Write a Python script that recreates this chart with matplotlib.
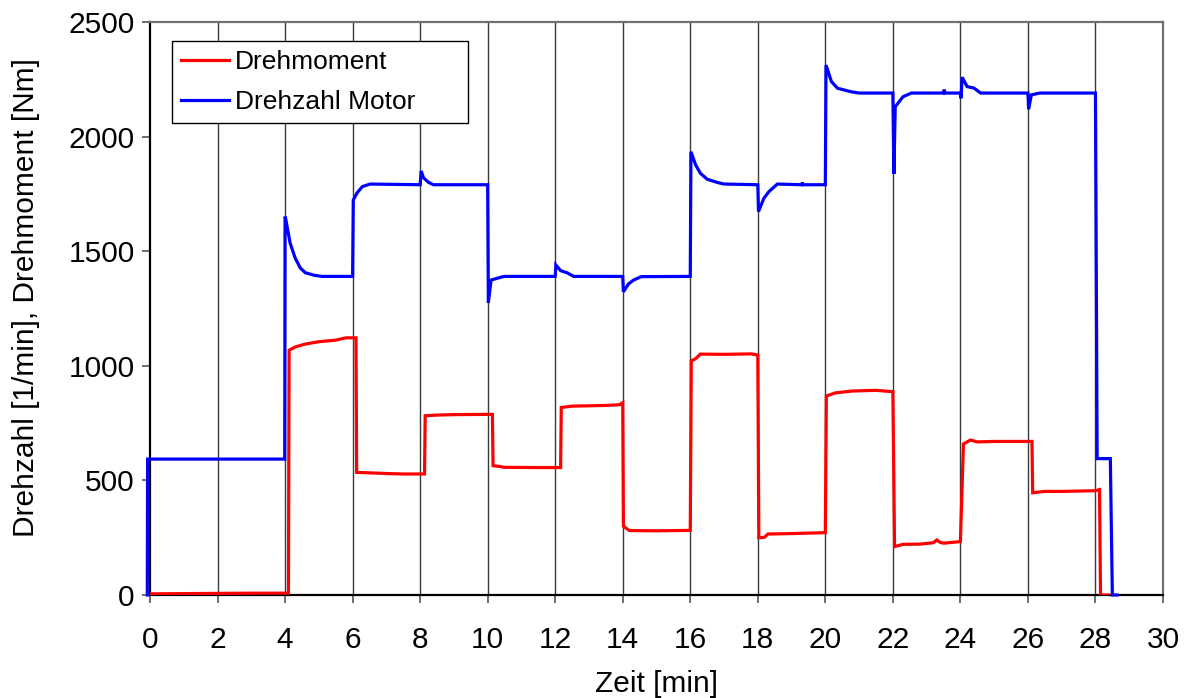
import matplotlib
matplotlib.use("Agg")
import matplotlib.pyplot as plt

plt.rcParams['font.family'] = ['Liberation Sans', 'DejaVu Sans']

# Drehmoment [Nm] - time [min] and value
torque_t = [0.0, 1.0, 2.0, 3.0, 4.1, 4.12, 4.3, 4.6, 5.0, 5.5, 5.8, 6.1,
            6.12, 6.3, 7.0, 7.5, 8.13, 8.15, 8.5, 9.0, 10.0, 10.14,
            10.16, 10.3, 10.5, 11.5, 12.16, 12.18, 12.5, 13.5, 13.9, 14.0,
            14.02, 14.2, 15.0, 16.0, 16.03, 16.15, 16.3, 17.0, 17.8, 18.0,
            18.03, 18.2, 18.3, 19.0, 20.0, 20.03, 20.3, 20.8, 21.5, 22.0,
            22.05, 22.3, 22.8, 23.2, 23.3, 23.4, 23.5, 24.0, 24.09,
            24.3, 24.5, 25.0, 26.12, 26.14, 26.5, 27.0, 28.0, 28.12,
            28.15, 28.4]
torque_v = [5, 6, 7, 8, 8, 1068, 1082, 1095, 1105, 1112, 1122, 1122,
            535, 534, 530, 528, 528, 782, 785, 787, 788, 788,
            564, 562, 557, 556, 556, 818, 824, 827, 830, 839,
            300, 281, 280, 282, 1022, 1030, 1051, 1050, 1052, 1047,
            250, 252, 266, 268, 272, 868, 882, 890, 893, 887,
            211, 221, 222, 228, 240, 230, 226, 233, 659,
            676, 668, 670, 670, 446, 452, 452, 455, 460,
            0, 0]

# Drehzahl Motor [1/min] - time [min] and value
speed_t = [-0.08, -0.07, 2.0, 3.99, 4.0, 4.02, 4.15, 4.3, 4.45, 4.6, 4.86,
           5.1, 6.0, 6.02, 6.13, 6.29, 6.52, 8.0, 8.03, 8.1, 8.25, 8.4,
           10.0, 10.02, 10.1, 10.38, 10.5, 12.0, 12.02, 12.16, 12.35,
           12.55, 14.0, 14.02, 14.17, 14.32, 14.55, 16.0, 16.02, 16.16,
           16.3, 16.5, 16.8, 17.0, 18.0, 18.02, 18.18, 18.33, 18.58,
           19.3, 19.32, 19.34, 20.0, 20.02, 20.18, 20.36, 20.75, 21.0,
           22.0, 22.03, 22.07, 22.3, 22.55, 23.5, 23.52, 23.54, 24.0,
           24.02, 24.05, 24.2, 24.4, 24.6, 26.0, 26.02, 26.1, 26.35,
           28.0, 28.05, 28.44, 28.5, 28.64]
speed_v = [0, 593, 593, 593, 1651, 1640, 1535, 1470, 1427, 1406, 1395,
           1390, 1390, 1723, 1754, 1782, 1793, 1790, 1850, 1820, 1800, 1790,
           1790, 1276, 1374, 1386, 1390, 1390, 1440, 1415, 1406,
           1390, 1390, 1323, 1357, 1374, 1389, 1390, 1934, 1876,
           1840, 1814, 1800, 1793, 1790, 1673, 1731, 1760, 1793,
           1790, 1800, 1790, 1790, 2312, 2240, 2211, 2196, 2190,
           2190, 1837, 2130, 2174, 2190, 2190, 2205, 2190, 2190,
           2167, 2259, 2218, 2212, 2190, 2190, 2119, 2182, 2190,
           2190, 595, 595, 0, 0]

x_ticks = list(range(0, 31, 2))
y_ticks = [0, 500, 1000, 1500, 2000, 2500]

fig = plt.figure(figsize=(11.92, 6.98), dpi=100)
ax = fig.add_axes([150 / 1192, 103 / 698, 1013 / 1192, 573 / 698])

for xv in x_ticks[1:-1]:
    ax.axvline(xv, color='#3a3a3a', lw=1.0, zorder=1)

ax.plot(speed_t, speed_v, color='#0000ff', lw=2.3, label='Drehzahl Motor',
        zorder=3, clip_on=False, solid_joinstyle='miter')
ax.plot(torque_t, torque_v, color='#ff0000', lw=2.3, label='Drehmoment',
        zorder=4, solid_joinstyle='miter')

ax.set_xlim(0, 30)
ax.set_ylim(0, 2500)
ax.set_xticks(x_ticks)
ax.set_yticks(y_ticks)
ax.tick_params(axis='both', labelsize=21.5, length=6, width=1.2, direction='out',
               color='#555555')
ax.tick_params(axis='x', pad=16)
ax.tick_params(axis='y', pad=5)

ax.set_xlabel('Zeit [min]', fontsize=21.5, labelpad=12)
ax.set_ylabel('Drehzahl [1/min], Drehmoment [Nm]', fontsize=21.5)
ax.yaxis.set_label_coords((40 - 150) / 1013, (595 - 298) / 573)

for s in ['left', 'bottom']:
    ax.spines[s].set_color('black')
    ax.spines[s].set_linewidth(1.6)
for s in ['top', 'right']:
    ax.spines[s].set_color('#707070')
    ax.spines[s].set_linewidth(1.6)

handles, labels = ax.get_legend_handles_labels()
order = [1, 0]
leg = ax.legend([handles[i] for i in order], [labels[i] for i in order],
                loc='upper left',
                bbox_to_anchor=(22 / 1013, 1 - 97 / 573, 296 / 1013, 78 / 573),
                mode='expand',
                fontsize=19, frameon=True, fancybox=False, framealpha=1,
                edgecolor='black', handlelength=1.8, handletextpad=0.25,
                borderpad=0.35, labelspacing=0.6, borderaxespad=0)
leg.get_frame().set_linewidth(1.0)
leg.set_zorder(10)

fig.savefig('out.png', dpi=100)
